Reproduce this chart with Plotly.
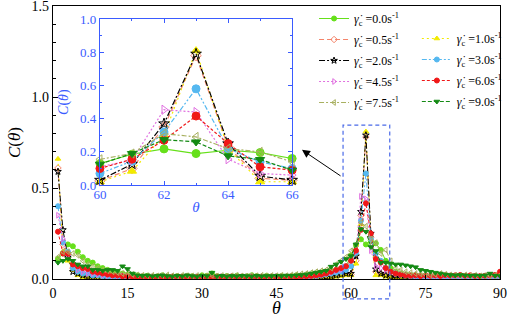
import plotly.graph_objects as go

theta = list(range(1, 91))

rates = ["0.0", "0.5", "1.0", "2.0", "3.0", "4.5", "6.0", "7.5", "9.0"]

c_00 = [0.11, 0.14, 0.19, 0.18, 0.15, 0.12, 0.10, 0.09, 0.07, 0.06, 0.05, 0.04, 0.035, 0.03, 0.025,
        0.02, 0.02, 0.015, 0.018, 0.012, 0.015, 0.02, 0.014, 0.012, 0.016, 0.013, 0.018, 0.015, 0.012, 0.02,
        0.018, 0.03, 0.015, 0.012, 0.016, 0.014, 0.018, 0.012, 0.015, 0.02, 0.016, 0.013, 0.018, 0.014, 0.015,
        0.017, 0.013, 0.016, 0.02, 0.018, 0.022, 0.025, 0.03, 0.035, 0.04, 0.045, 0.05, 0.055, 0.07, 0.13,
        0.186, 0.218, 0.19, 0.21, 0.196, 0.16, 0.10, 0.06, 0.04, 0.03, 0.025, 0.02, 0.02, 0.018, 0.016,
        0.015, 0.014, 0.016, 0.012, 0.015, 0.013, 0.014, 0.016, 0.012, 0.015, 0.013, 0.014, 0.012, 0.015, 0.018]
c_05 = [0.61, 0.19, 0.12, 0.06, 0.04, 0.03, 0.025, 0.02, 0.02, 0.015, 0.015, 0.012, 0.01, 0.012, 0.01,
        0.008, 0.01, 0.012, 0.008, 0.01, 0.009, 0.012, 0.01, 0.008, 0.011, 0.009, 0.012, 0.01, 0.008, 0.01,
        0.012, 0.009, 0.011, 0.008, 0.01, 0.012, 0.009, 0.01, 0.008, 0.011, 0.01, 0.012, 0.009, 0.01, 0.011,
        0.009, 0.012, 0.01, 0.011, 0.013, 0.012, 0.015, 0.014, 0.016, 0.018, 0.02, 0.022, 0.025, 0.03, 0.025,
        0.10, 0.35, 0.78, 0.23, 0.04, 0.03, 0.025, 0.02, 0.018, 0.015, 0.014, 0.012, 0.013, 0.011, 0.012,
        0.01, 0.012, 0.011, 0.009, 0.012, 0.01, 0.011, 0.013, 0.01, 0.012, 0.011, 0.009, 0.012, 0.014, 0.02]
c_10 = [0.66, 0.15, 0.10, 0.05, 0.02, 0.01, 0.006, 0.004, 0.005, 0.003, 0.004, 0.003, 0.005, 0.004, 0.003,
        0.004, 0.003, 0.005, 0.004, 0.003, 0.004, 0.005, 0.003, 0.004, 0.003, 0.005, 0.004, 0.003, 0.004, 0.005,
        0.003, 0.004, 0.005, 0.003, 0.004, 0.003, 0.005, 0.004, 0.003, 0.004, 0.005, 0.003, 0.004, 0.003, 0.004,
        0.005, 0.003, 0.004, 0.005, 0.004, 0.006, 0.005, 0.007, 0.006, 0.008, 0.01, 0.012, 0.015, 0.02, 0.02,
        0.084, 0.30, 0.81, 0.22, 0.02, 0.02, 0.012, 0.008, 0.006, 0.005, 0.004, 0.005, 0.003, 0.004, 0.005,
        0.004, 0.003, 0.005, 0.004, 0.003, 0.004, 0.005, 0.003, 0.004, 0.005, 0.004, 0.003, 0.005, 0.008, 0.035]
c_20 = [0.59, 0.27, 0.12, 0.04, 0.03, 0.02, 0.01, 0.008, 0.006, 0.005, 0.006, 0.004, 0.005, 0.004, 0.005,
        0.004, 0.005, 0.006, 0.004, 0.005, 0.004, 0.006, 0.005, 0.004, 0.005, 0.006, 0.004, 0.005, 0.006, 0.004,
        0.005, 0.006, 0.004, 0.005, 0.004, 0.006, 0.005, 0.004, 0.006, 0.005, 0.004, 0.005, 0.006, 0.004, 0.005,
        0.006, 0.005, 0.004, 0.006, 0.005, 0.007, 0.006, 0.008, 0.01, 0.012, 0.015, 0.02, 0.025, 0.03, 0.03,
        0.126, 0.37, 0.79, 0.25, 0.054, 0.03, 0.02, 0.012, 0.008, 0.006, 0.005, 0.006, 0.004, 0.005, 0.006,
        0.004, 0.005, 0.006, 0.004, 0.005, 0.006, 0.004, 0.005, 0.006, 0.004, 0.005, 0.006, 0.005, 0.008, 0.015]
c_30 = [0.40, 0.20, 0.15, 0.06, 0.04, 0.03, 0.03, 0.02, 0.02, 0.015, 0.012, 0.01, 0.012, 0.01, 0.008,
        0.009, 0.008, 0.01, 0.007, 0.009, 0.008, 0.01, 0.009, 0.007, 0.008, 0.01, 0.008, 0.009, 0.007, 0.008,
        0.009, 0.008, 0.007, 0.009, 0.008, 0.01, 0.007, 0.009, 0.008, 0.007, 0.009, 0.008, 0.01, 0.008, 0.009,
        0.008, 0.01, 0.009, 0.011, 0.01, 0.012, 0.014, 0.016, 0.02, 0.025, 0.03, 0.035, 0.04, 0.05, 0.07,
        0.144, 0.32, 0.58, 0.22, 0.14, 0.10, 0.06, 0.04, 0.03, 0.025, 0.02, 0.015, 0.012, 0.01, 0.009,
        0.008, 0.01, 0.009, 0.007, 0.008, 0.01, 0.008, 0.009, 0.007, 0.009, 0.008, 0.01, 0.008, 0.01, 0.012]
c_45 = [0.35, 0.22, 0.13, 0.08, 0.05, 0.04, 0.03, 0.03, 0.025, 0.02, 0.018, 0.015, 0.014, 0.015, 0.012,
        0.012, 0.01, 0.012, 0.011, 0.01, 0.012, 0.014, 0.011, 0.01, 0.012, 0.011, 0.013, 0.01, 0.012, 0.011,
        0.01, 0.012, 0.011, 0.013, 0.01, 0.012, 0.011, 0.01, 0.012, 0.013, 0.011, 0.01, 0.012, 0.011, 0.013,
        0.012, 0.011, 0.013, 0.012, 0.014, 0.015, 0.018, 0.02, 0.025, 0.03, 0.035, 0.045, 0.05, 0.07, 0.11,
        0.15, 0.454, 0.44, 0.156, 0.07, 0.06, 0.05, 0.04, 0.03, 0.025, 0.02, 0.018, 0.015, 0.014, 0.012,
        0.013, 0.011, 0.012, 0.014, 0.011, 0.012, 0.013, 0.011, 0.012, 0.014, 0.012, 0.011, 0.013, 0.012, 0.015]
c_60 = [0.26, 0.14, 0.14, 0.08, 0.07, 0.06, 0.055, 0.04, 0.035, 0.03, 0.025, 0.02, 0.02, 0.015, 0.015,
        0.012, 0.01, 0.012, 0.011, 0.009, 0.012, 0.01, 0.011, 0.013, 0.01, 0.012, 0.009, 0.011, 0.012, 0.01,
        0.011, 0.009, 0.012, 0.01, 0.011, 0.013, 0.01, 0.012, 0.009, 0.011, 0.012, 0.01, 0.011, 0.013, 0.01,
        0.012, 0.011, 0.013, 0.012, 0.014, 0.015, 0.017, 0.02, 0.024, 0.03, 0.04, 0.05, 0.06, 0.07, 0.10,
        0.156, 0.27, 0.416, 0.25, 0.11, 0.09, 0.06, 0.04, 0.03, 0.025, 0.02, 0.018, 0.02, 0.016, 0.02,
        0.018, 0.02, 0.017, 0.021, 0.019, 0.02, 0.022, 0.018, 0.02, 0.017, 0.016, 0.018, 0.02, 0.022, 0.04]
c_75 = [0.12, 0.15, 0.15, 0.14, 0.13, 0.10, 0.08, 0.07, 0.06, 0.05, 0.045, 0.04, 0.035, 0.03, 0.03,
        0.025, 0.022, 0.02, 0.018, 0.02, 0.017, 0.019, 0.022, 0.018, 0.016, 0.02, 0.018, 0.017, 0.019, 0.016,
        0.018, 0.02, 0.017, 0.019, 0.016, 0.018, 0.02, 0.017, 0.016, 0.019, 0.018, 0.02, 0.017, 0.019, 0.018,
        0.02, 0.018, 0.022, 0.025, 0.028, 0.03, 0.035, 0.04, 0.045, 0.05, 0.06, 0.08, 0.10, 0.12, 0.155,
        0.19, 0.31, 0.29, 0.22, 0.20, 0.14, 0.16, 0.10, 0.06, 0.05, 0.04, 0.035, 0.03, 0.028, 0.025,
        0.022, 0.025, 0.03, 0.026, 0.022, 0.02, 0.019, 0.022, 0.018, 0.02, 0.017, 0.019, 0.018, 0.02, 0.022]
c_90 = [0.09, 0.10, 0.11, 0.10, 0.08, 0.07, 0.07, 0.05, 0.05, 0.045, 0.05, 0.05, 0.045, 0.07, 0.055,
        0.03, 0.02, 0.018, 0.02, 0.015, 0.018, 0.02, 0.016, 0.014, 0.018, 0.015, 0.02, 0.016, 0.014, 0.018,
        0.016, 0.035, 0.015, 0.018, 0.014, 0.017, 0.015, 0.018, 0.016, 0.014, 0.018, 0.015, 0.017, 0.016, 0.018,
        0.016, 0.019, 0.018, 0.02, 0.022, 0.025, 0.03, 0.035, 0.04, 0.045, 0.068, 0.08, 0.095, 0.11, 0.126,
        0.19, 0.274, 0.26, 0.176, 0.154, 0.09, 0.09, 0.085, 0.08, 0.08, 0.075, 0.07, 0.065, 0.05, 0.045,
        0.04, 0.035, 0.03, 0.025, 0.022, 0.02, 0.022, 0.02, 0.018, 0.02, 0.018, 0.02, 0.03, 0.018, 0.016]

series = [c_00, c_05, c_10, c_20, c_30, c_45, c_60, c_75, c_90]
colors = ["#66e01a", "#f4846a", "#f2ea00", "#000000", "#55b8f0", "#e070e0", "#f01818", "#a8b060", "#148a14"]
symbols = ["circle", "diamond-open", "triangle-up", "star-open", "circle",
           "triangle-right-open", "circle", "triangle-left-open", "triangle-down"]
dashes = ["solid", "5px,3px", "2px,3px", "6px,2px,2px,2px", "5px,2px,2px,2px,2px,2px",
          "2px,2px", "3px,2px", "5px,2px,2px,2px", "4px,2px"]
# legend column for each series (left column / right column)
legend_col = ["legend", "legend", "legend2", "legend", "legend2", "legend", "legend2", "legend", "legend2"]

BLUE = "#3a5bff"
FONT = "Liberation Serif"

inset_lo, inset_hi = 60, 66
XR = [0, 90]
YR = [0, 1.5]

fig = go.Figure()

for i, (r, vals) in enumerate(zip(rates, series)):
    name = "<i>γ̇</i><sub>c</sub> =" + r + "s<sup>-1</sup>"
    fig.add_trace(go.Scatter(
        x=theta, y=vals, mode="lines+markers", name=name,
        line=dict(color=colors[i], width=1, dash=dashes[i]),
        marker=dict(symbol=symbols[i], size=5, color=colors[i], line=dict(color=colors[i], width=1)),
        xaxis="x", yaxis="y", legend=legend_col[i], legendgroup="g" + r,
    ))

for i, (r, vals) in enumerate(zip(rates, series)):
    xs = [t for t in theta if inset_lo <= t <= inset_hi]
    ys = [v for t, v in zip(theta, vals) if inset_lo <= t <= inset_hi]
    fig.add_trace(go.Scatter(
        x=xs, y=ys, mode="lines+markers", showlegend=False,
        line=dict(color=colors[i], width=1.2, dash=dashes[i]),
        marker=dict(symbol=symbols[i], size=8, color=colors[i], line=dict(color=colors[i], width=1)),
        xaxis="x2", yaxis="y2", cliponaxis=False,
    ))

def dom_x(t):
    return (t - XR[0]) / (XR[1] - XR[0])

def dom_y(c):
    return (c - YR[0]) / (YR[1] - YR[0])

# dashed zoom box around the peak
fig.add_shape(type="rect", xref="x domain", yref="y domain",
              x0=dom_x(58.4), x1=dom_x(67.8), y0=-0.073, y1=dom_y(0.846),
              line=dict(color="#4a6ae8", width=1.2, dash="4px,3px"), fillcolor="rgba(0,0,0,0)")

fig.add_annotation(xref="x domain", yref="y domain", axref="x domain", ayref="y domain",
                   x=0.557, y=0.473, ax=dom_x(58.2), ay=0.374, text="",
                   showarrow=True, arrowhead=2, arrowsize=1.6, arrowwidth=1, arrowcolor="black")

leg_common = dict(orientation="v", xanchor="left", yanchor="top", itemwidth=30,
                  bgcolor="rgba(0,0,0,0)", font=dict(family=FONT, size=12), tracegroupgap=2,
                  traceorder="grouped")

fig.update_layout(
    width=509, height=318,
    margin=dict(l=53, r=9, t=6, b=39, autoexpand=False),
    paper_bgcolor="white", plot_bgcolor="white",
    font=dict(family=FONT, size=14, color="black"),
    xaxis=dict(range=XR, domain=[0, 1], tickvals=[0, 15, 30, 45, 60, 75, 90], linecolor="black", linewidth=1.2,
               ticklen=4, tickcolor="black", showline=True, mirror=True, ticks="inside",
               zeroline=False, showgrid=False, ticklabelstandoff=1, ticklabeloverflow="allow",
               title=dict(text="<i>θ</i>", font=dict(size=18), standoff=3)),
    yaxis=dict(range=YR, domain=[0, 1], tickvals=[0, 0.5, 1.0, 1.5], ticktext=["0.0", "0.5", "1.0", "1.5"],
               linecolor="black", linewidth=1.2, ticklen=5, tickcolor="black", ticklabeloverflow="allow",
               showline=True, mirror=True, ticks="inside", zeroline=False, showgrid=False,
               minor=dict(dtick=0.1, ticks="inside", ticklen=3, tickcolor="black"),
               title=dict(text="<i>C</i>(<i>θ</i>)", font=dict(size=17), standoff=6)),
    xaxis2=dict(range=[inset_lo, inset_hi], domain=[0.105, 0.535], anchor="y2",
                tickvals=[60, 62, 64, 66], linecolor=BLUE, linewidth=1.2, tickcolor=BLUE, ticklen=4,
                showline=True, mirror="ticks", ticks="inside", zeroline=False, showgrid=False,
                minor=dict(dtick=1, ticks="inside", ticklen=2, tickcolor=BLUE),
                tickfont=dict(color=BLUE, size=13), ticklabelstandoff=-3,
                title=dict(text="<i>θ</i>", font=dict(color=BLUE, size=15), standoff=0)),
    yaxis2=dict(range=[0, 1], domain=[0.344, 0.952], anchor="x2",
                tickvals=[0, 0.2, 0.4, 0.6, 0.8, 1.0], ticktext=["0.0", "0.2", "0.4", "0.6", "0.8", "1.0"],
                linecolor=BLUE, linewidth=1.2, tickcolor=BLUE, ticklen=4,
                showline=True, mirror="ticks", ticks="inside", zeroline=False, showgrid=False,
                minor=dict(dtick=0.1, ticks="inside", ticklen=2, tickcolor=BLUE),
                tickfont=dict(color=BLUE, size=13),
                title=dict(text="<i>C</i>(<i>θ</i>)", font=dict(color=BLUE, size=14), standoff=8)),
    legend=dict(x=0.584, y=1.0 + 2 / 273, **leg_common),
    legend2=dict(x=0.814, y=1.0 - 18 / 273, **leg_common),
    showlegend=True,
)

fig.write_html("out.html", config={"displayModeBar": False},
               post_script="document.body.style.margin='0';")
